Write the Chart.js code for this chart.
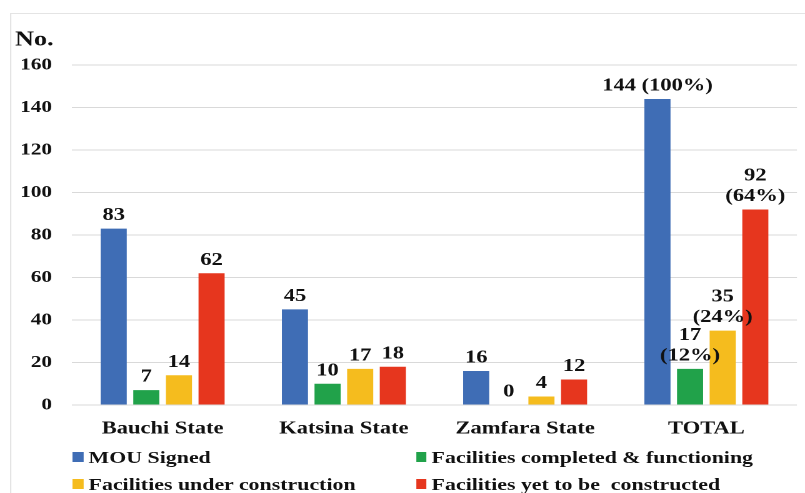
<!DOCTYPE html>
<html>
<head>
<meta charset="utf-8">
<script src="https://cdn.jsdelivr.net/npm/chart.js@4"></script>
<style>
  html, body { margin: 0; padding: 0; background: #fff; overflow: hidden; }
  /* the original picture is a horizontally stretched export, so draw narrow and stretch */
  #stretch { position: absolute; left: 0; top: 0; width: 644px; height: 493px; transform: scaleX(1.25); transform-origin: 0 0; }
  #frame { position: absolute; left: 8px; top: 13px; width: 700px; height: 600px; border: 1px solid #e4e4e4; }
  #box { position: absolute; left: 0; top: 0; width: 644px; height: 445px; }
  #legend { position: absolute; left: 0; top: 0; width: 644px; height: 493px; font: bold 17.5px "Liberation Serif", serif; color: #111; }
  .item { position: absolute; display: flex; align-items: center; white-space: nowrap; height: 20px; }
  .sw { width: 8.5px; height: 10px; margin-right: 4px; }
</style>
</head>
<body>
<div id="stretch">
  <div id="frame"></div>
  <div id="box"><canvas id="chart"></canvas></div>
  <div id="legend"></div>
</div>
<script>
const categories = ['Bauchi State', 'Katsina State', 'Zamfara State', 'TOTAL'];

const mouSigned = [83, 45, 16, 144];
const completed = [7, 10, 0, 17];
const underConstruction = [14, 17, 4, 35];
const yetToBuild = [62, 18, 12, 92];

// text written over each bar (lines)
const mouLabels = [['83'], ['45'], ['16'], ['144 (100%)']];
const completedLabels = [['7'], ['10'], ['0'], ['17', '(12%)']];
const underLabels = [['14'], ['17'], ['4'], ['35', '(24%)']];
const yetLabels = [['62'], ['18'], ['12'], ['92', '(64%)']];

const yTicks = [0, 20, 40, 60, 80, 100, 120, 140, 160];

const seriesNames = ['MOU Signed', 'Facilities completed & functioning', 'Facilities under construction', 'Facilities yet to be  constructed'];
const seriesColors = ['#3f6db5', '#21a24a', '#f5bc1e', '#e6361e'];

const FONT = '"Liberation Serif", "Times New Roman", serif';

const barLabels = {
  id: 'barLabels',
  afterDatasetsDraw(chart) {
    const ctx = chart.ctx;
    ctx.save();
    ctx.font = 'bold 18px ' + FONT;
    ctx.fillStyle = '#111';
    ctx.textAlign = 'center';
    ctx.textBaseline = 'alphabetic';
    chart.data.datasets.forEach((ds, i) => {
      chart.getDatasetMeta(i).data.forEach((bar, j) => {
        const lines = ds.lines[j];
        lines.forEach((txt, k) => {
          const y = bar.y - 8.5 - (lines.length - 1 - k) * 20.5;
          ctx.fillText(txt, bar.x, y);
        });
      });
    });
    // axis unit at top left
    ctx.font = 'bold 21px ' + FONT;
    ctx.textAlign = 'left';
    ctx.fillText('No.', 12, 45.5);
    ctx.restore();
  }
};

const ctx = document.getElementById('chart').getContext('2d');

const chart = new Chart(ctx, {
  type: 'bar',
  data: {
    labels: categories,
    datasets: [
      { label: seriesNames[0], data: mouSigned, lines: mouLabels, backgroundColor: seriesColors[0] },
      { label: seriesNames[1], data: completed, lines: completedLabels, backgroundColor: seriesColors[1] },
      { label: seriesNames[2], data: underConstruction, lines: underLabels, backgroundColor: seriesColors[2] },
      { label: seriesNames[3], data: yetToBuild, lines: yetLabels, backgroundColor: seriesColors[3] }
    ]
  },
  options: {
    responsive: true,
    maintainAspectRatio: false,
    animation: false,
    devicePixelRatio: 2,
    categoryPercentage: 0.72,
    barPercentage: 0.8,
    layout: { padding: { top: 65, right: 6.4, left: 0, bottom: 0 } },
    plugins: {
      legend: { display: false },
      tooltip: { enabled: false }
    },
    scales: {
      x: {
        grid: { display: false },
        border: { display: false },
        ticks: { color: '#111', font: { family: FONT, size: 18, weight: 'bold' }, padding: 5 },
        afterFit(scale) { scale.height = 40; }
      },
      y: {
        min: 0,
        max: 160,
        afterBuildTicks(scale) { scale.ticks = yTicks.map(v => ({ value: v })); },
        grid: { color: '#d9d9d9', drawTicks: false },
        border: { display: false },
        ticks: { color: '#111', font: { family: FONT, size: 17, weight: 'bold' }, padding: 16 },
        afterFit(scale) { scale.width = 57.6; }
      }
    }
  },
  plugins: [barLabels]
});

// two column legend under the chart
const legend = document.getElementById('legend');
const legendLeft = [58.4, 332.8];
const legendTop = [447, 474];
chart.data.datasets.forEach((ds, i) => {
  const item = document.createElement('div');
  item.className = 'item';
  item.style.left = legendLeft[i % 2] + 'px';
  item.style.top = legendTop[Math.floor(i / 2)] + 'px';
  const sw = document.createElement('span');
  sw.className = 'sw';
  sw.style.background = ds.backgroundColor;
  const txt = document.createElement('span');
  txt.textContent = ds.label;
  txt.style.whiteSpace = 'pre';
  item.appendChild(sw);
  item.appendChild(txt);
  legend.appendChild(item);
});
</script>
</body>
</html>
